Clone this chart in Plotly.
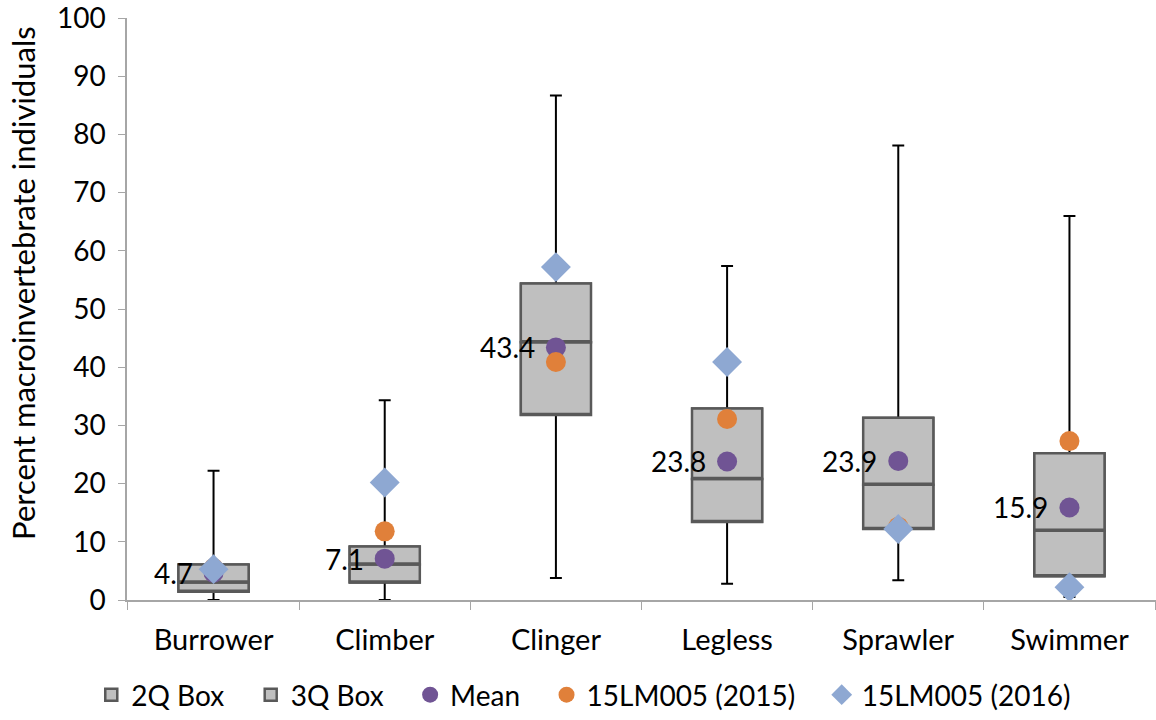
import plotly.graph_objects as go

# box-plot stats (percent of individuals)
categories = ["Burrower", "Climber", "Clinger", "Legless", "Sprawler", "Swimmer"]
lower = [0.0, 0.0, 3.8, 2.8, 3.4, 0.5]
q1 = [1.4, 3.0, 31.8, 13.4, 12.2, 4.1]
median = [3.0, 6.1, 44.3, 20.8, 19.8, 11.9]
q3 = [6.1, 9.2, 54.4, 32.9, 31.3, 25.2]
upper = [22.2, 34.3, 86.7, 57.4, 78.1, 66.0]
mean = [4.7, 7.1, 43.4, 23.8, 23.9, 15.9]
site_2015 = [5.5, 11.8, 40.9, 31.1, 12.6, 27.3]
site_2016 = [5.3, 20.2, 57.2, 40.9, 12.2, 2.2]

FONT = "Lato"
BOX_FILL = "#BFBFBF"
BOX_LINE = "#595959"
AXIS_GREY = "#A6A6A6"
PAD = "\u00a0" * 3  # extra room between legend entries

fig = go.Figure()

# whiskers (black) - body is covered by the grey boxes drawn on top
fig.add_trace(go.Box(
    x=categories, q1=q1, median=median, q3=q3,
    lowerfence=lower, upperfence=upper,
    width=0.41, whiskerwidth=0.17,
    line=dict(color="black", width=2),
    fillcolor="rgba(0,0,0,0)",
    showlegend=False, hoverinfo="skip",
))

# 2Q box (q1 -> median)
fig.add_trace(go.Box(
    x=categories, q1=q1, median=q1, q3=median,
    lowerfence=q1, upperfence=median,
    width=0.41, whiskerwidth=0,
    line=dict(color=BOX_LINE, width=2.5),
    fillcolor=BOX_FILL, name="2Q Box" + PAD,
))

# 3Q box (median -> q3)
fig.add_trace(go.Box(
    x=categories, q1=median, median=median, q3=q3,
    lowerfence=median, upperfence=q3,
    width=0.41, whiskerwidth=0,
    line=dict(color=BOX_LINE, width=2.5),
    fillcolor=BOX_FILL, name="3Q Box" + PAD,
))

fig.add_trace(go.Scatter(
    x=categories, y=mean, mode="markers", name="Mean" + PAD,
    marker=dict(symbol="circle", size=20, color="#705494"),
))
fig.add_trace(go.Scatter(
    x=categories, y=site_2015, mode="markers", name="15LM005 (2015)" + PAD,
    marker=dict(symbol="circle", size=20, color="#E0803A"),
))
fig.add_trace(go.Scatter(
    x=categories, y=site_2016, mode="markers", name="15LM005 (2016)",
    marker=dict(symbol="diamond", size=23, color="#8EA8D2"),
))

# mean value labels to the left of the mean marker
for cat, m in zip(categories, mean):
    fig.add_annotation(
        x=cat, y=m, text=f"{m:.1f}", showarrow=False,
        xanchor="right", yanchor="middle", xshift=-19,
        font=dict(family=FONT, size=28, color="black"),
    )

# y title sits a bit above the plot's centre in the original
fig.add_annotation(
    text="Percent macroinvertebrate individuals", textangle=-90,
    xref="paper", yref="paper", x=-0.101, y=0.545,
    xanchor="center", yanchor="middle", showarrow=False,
    font=dict(family=FONT, size=31, color="black"),
)

fig.update_layout(
    width=1156, height=720,
    paper_bgcolor="white", plot_bgcolor="white",
    font=dict(family=FONT, size=28, color="black"),
    boxmode="overlay",
    margin=dict(l=127, r=0, t=18, b=120),
    showlegend=True,
    legend=dict(
        orientation="h", xref="container", yref="container",
        x=0.505, xanchor="center", y=0.0, yanchor="bottom",
        font=dict(size=28), traceorder="normal",
    ),
    xaxis=dict(
        showline=True, linecolor=AXIS_GREY, linewidth=1.5,
        ticks="outside", tickson="boundaries", ticklen=8, tickcolor=AXIS_GREY,
        showgrid=False, ticklabelstandoff=13, tickfont=dict(size=29),
    ),
    yaxis=dict(
        range=[0, 100], dtick=10,
        showline=True, linecolor=AXIS_GREY, linewidth=1.5,
        ticks="outside", ticklen=7, tickcolor=AXIS_GREY,
        showgrid=False, zeroline=False, ticklabelstandoff=7,
        ticklabeloverflow="allow",
    ),
)

# drop the default 8px body margin so the figure fills the window
fig.write_html(
    "out.html",
    config={"displayModeBar": False},
    post_script="document.body.style.margin='0';",
)
